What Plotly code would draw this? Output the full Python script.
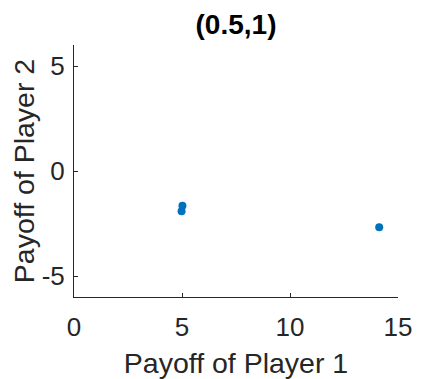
import plotly.graph_objects as go

# payoff pairs
payoff_p1 = [5.02, 4.98, 14.13]
payoff_p2 = [-1.65, -1.92, -2.68]

x_ticks = [0, 5, 10, 15]
y_ticks = [-5, 0, 5]

ink = "#262626"
font = "Liberation Sans, Arial, sans-serif"

fig = go.Figure()
fig.add_trace(go.Scatter(
    x=payoff_p1, y=payoff_p2, mode="markers",
    marker=dict(color="#0072BD", size=8),
    showlegend=False,
))

axis_common = dict(
    showgrid=False, zeroline=False, showline=True, linecolor=ink, linewidth=1,
    ticks="inside", ticklen=4, tickcolor=ink,
    tickfont=dict(family=font, size=26, color=ink),
    mirror=False, automargin=False,
)

fig.update_xaxes(
    range=[0, 15], tickvals=x_ticks, ticklabelstandoff=7,
    title=dict(text="Payoff of Player 1", font=dict(family=font, size=28.5, color=ink), standoff=18),
    **axis_common,
)
fig.update_yaxes(
    range=[-6, 6], tickvals=y_ticks, ticktext=["-5", "0", "5"], ticklabelstandoff=3,
    title=dict(text="Payoff of Player 2", font=dict(family=font, size=28.5, color=ink), standoff=11),
    **axis_common,
)

# the page body adds an 8px offset, so margins are measured from there
fig.update_layout(
    width=425, height=371,
    margin=dict(l=66, r=35, t=37, b=82),
    paper_bgcolor="white", plot_bgcolor="white",
    title=dict(text="<b>(0.5,1)</b>", xref="paper", x=0.5, xanchor="center",
               y=1 - 16 / 371, yanchor="middle",
               font=dict(family=font, size=28, color="black")),
)

fig.write_html("out.html")
